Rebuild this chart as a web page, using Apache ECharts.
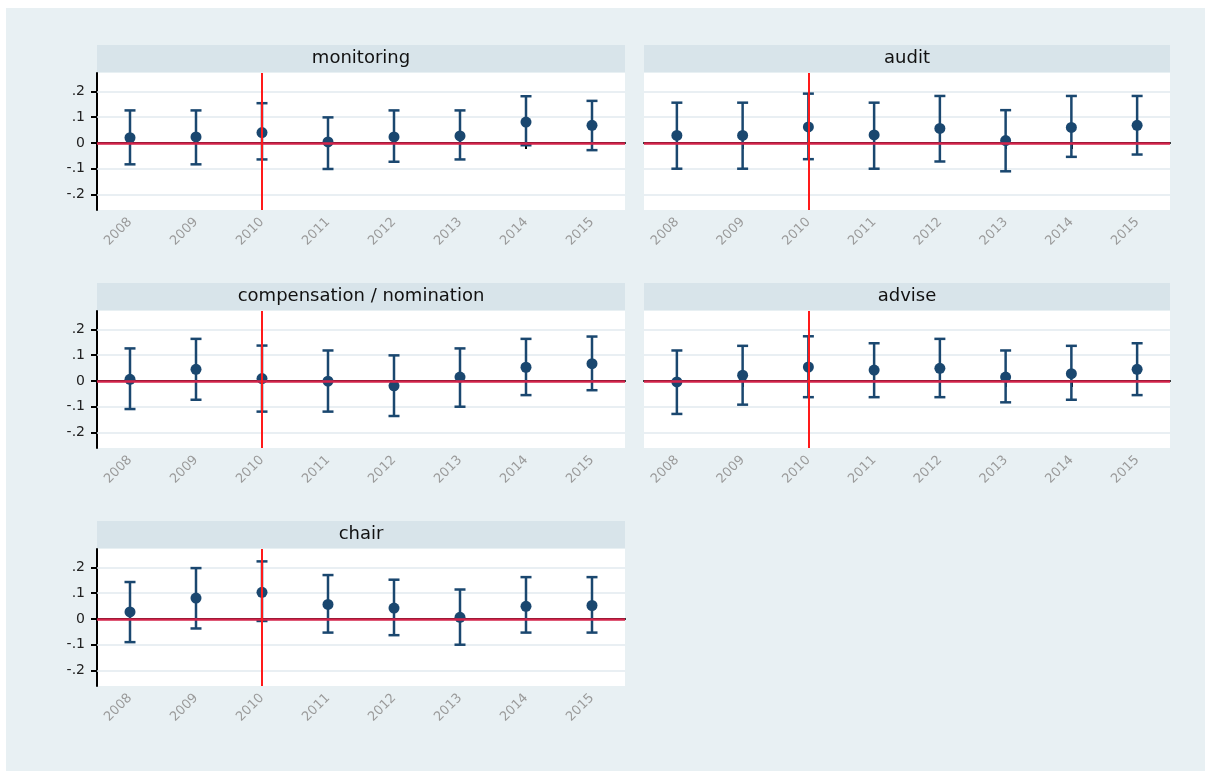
<!DOCTYPE html>
<html>
<head>
<meta charset="utf-8">
<script src="https://cdn.jsdelivr.net/npm/echarts@6/dist/echarts.min.js"></script>
<style>
html,body{margin:0;padding:0;background:#ffffff;}
#bg{position:absolute;left:6px;top:8px;width:1199px;height:763px;background:#e8f0f3;}
#chart{position:absolute;left:0;top:0;width:1205px;height:771px;}
</style>
</head>
<body>
<div id="bg"></div>
<div id="chart"></div>
<script>
// ---- data ----
const years = ['2008','2009','2010','2011','2012','2013','2014','2015'];
const panelTitles = ['monitoring','audit','compensation / nomination','advise','chair'];
const yTicks = [-0.2,-0.1,0,0.1,0.2];
const eventYear = '2010';

const monitoringEst = [0.020, 0.023, 0.040, 0.004, 0.023, 0.027, 0.081, 0.068];
const monitoringLo  = [-0.083,-0.083,-0.064,-0.101,-0.073,-0.064,-0.009,-0.028];
const monitoringHi  = [0.126, 0.126, 0.154, 0.099, 0.126, 0.126, 0.181, 0.163];

const auditEst = [0.029, 0.029, 0.062, 0.031, 0.056, 0.009, 0.060, 0.068];
const auditLo  = [-0.100,-0.100,-0.063,-0.100,-0.072,-0.110,-0.054,-0.045];
const auditHi  = [0.156, 0.156, 0.191, 0.156, 0.182, 0.127, 0.182, 0.182];

const compEst = [0.006, 0.045, 0.009, -0.001, -0.019, 0.015, 0.053, 0.067];
const compLo  = [-0.109,-0.073,-0.119,-0.119,-0.136,-0.100,-0.055,-0.036];
const compHi  = [0.126, 0.163, 0.137, 0.118, 0.099, 0.126, 0.163, 0.172];

const adviseEst = [-0.004, 0.022, 0.054, 0.042, 0.049, 0.015, 0.028, 0.045];
const adviseLo  = [-0.128,-0.092,-0.063,-0.063,-0.063,-0.083,-0.073,-0.055];
const adviseHi  = [0.118, 0.136, 0.173, 0.146, 0.163, 0.118, 0.136, 0.146];

const chairEst = [0.027, 0.081, 0.103, 0.056, 0.042, 0.006, 0.049, 0.052];
const chairLo  = [-0.090,-0.037,-0.008,-0.053,-0.063,-0.100,-0.053,-0.053];
const chairHi  = [0.143, 0.197, 0.223, 0.170, 0.152, 0.114, 0.162, 0.162];

const panelData = [
  [monitoringEst, monitoringLo, monitoringHi],
  [auditEst, auditLo, auditHi],
  [compEst, compLo, compHi],
  [adviseEst, adviseLo, adviseHi],
  [chairEst, chairLo, chairHi]
];

// ---- layout / style ----
const layout = [
  {left:97,  top:73,  width:528, yAxis:true},
  {left:644, top:73,  width:526, yAxis:false},
  {left:97,  top:311, width:528, yAxis:true},
  {left:644, top:311, width:526, yAxis:false},
  {left:97,  top:549, width:528, yAxis:true}
];
const plotH = 137, headerH = 27;
const navy = '#1a476f';
const fontFam = 'DejaVu Sans, Arial, sans-serif';

function fmtY(v){
  if (Math.abs(v) < 1e-9) return '0';
  const s = Math.abs(v).toFixed(1).replace(/^0/, '');
  return (v < 0 ? '-' : '') + s;
}

const grids = [], xAxes = [], yAxes = [], series = [], graphics = [];

layout.forEach((g, i) => {
  grids.push({left:g.left, top:g.top, width:g.width, height:plotH,
    show:true, backgroundColor:'#ffffff', borderWidth:0, containLabel:false});
  xAxes.push({type:'category', gridIndex:i, data:years, boundaryGap:true,
    axisLine:{show:true, lineStyle:{color:'#000', width:2}},
    axisTick:{show:true, alignWithLabel:true, length:6, lineStyle:{color:'#000', width:2}},
    axisLabel:{rotate:45, color:'#9a9a9a', fontSize:13, fontFamily:fontFam, margin:10},
    splitLine:{show:false}});
  yAxes.push({type:'value', gridIndex:i, min:-0.26, max:0.271,
    axisLine:{show:g.yAxis, onZero:false, lineStyle:{color:'#000', width:2}},
    axisTick:{show:g.yAxis, length:6, customValues:yTicks, lineStyle:{color:'#000', width:2}},
    axisLabel:{show:g.yAxis, customValues:yTicks, formatter:fmtY, color:'#222',
      fontSize:14, fontFamily:fontFam, margin:12},
    splitLine:{show:false}});

  const [est, lo, hi] = panelData[i];

  // faint horizontal grid lines
  series.push({type:'scatter', xAxisIndex:i, yAxisIndex:i, data:[], z:1, silent:true,
    markLine:{silent:true, z:1, symbol:['none','none'], label:{show:false},
      lineStyle:{color:'#e2eaef', width:1.5, type:'solid'},
      data: yTicks.filter(v => v !== 0).map(v => ({yAxis:v}))}});

  // confidence intervals
  series.push({type:'custom', xAxisIndex:i, yAxisIndex:i, z:3, silent:true,
    data: years.map((y, k) => [k, lo[k], hi[k]]),
    renderItem: function(params, api){
      const x = api.value(0);
      const a = api.coord([x, api.value(1)]);
      const b = api.coord([x, api.value(2)]);
      const c = 5.5;
      const st = {stroke:navy, lineWidth:2.5};
      return {type:'group', children:[
        {type:'line', shape:{x1:a[0], y1:a[1], x2:b[0], y2:b[1]}, style:st},
        {type:'line', shape:{x1:a[0]-c, y1:a[1], x2:a[0]+c, y2:a[1]}, style:st},
        {type:'line', shape:{x1:b[0]-c, y1:b[1], x2:b[0]+c, y2:b[1]}, style:st}
      ]};
    }});

  // point estimates
  series.push({type:'scatter', xAxisIndex:i, yAxisIndex:i, z:4, silent:true,
    symbol:'circle', symbolSize:11, itemStyle:{color:navy, opacity:1},
    data: est.map((v, k) => [k, v])});

  // reference lines
  series.push({type:'scatter', xAxisIndex:i, yAxisIndex:i, data:[], z:10, silent:true,
    markLine:{silent:true, z:10, symbol:['none','none'], label:{show:false}, animation:false,
      data:[
        {yAxis:0, lineStyle:{color:'#d3234a', width:2.5, type:'solid'}},
        {xAxis:eventYear, lineStyle:{color:'#ff1a1a', width:2, type:'solid'}}
      ]}});

  // header strip
  graphics.push({type:'rect', left:g.left, top:g.top - headerH - 1,
    shape:{width:g.width, height:headerH}, style:{fill:'#d8e4ea'}, silent:true});
  graphics.push({type:'text', x:g.left + g.width/2, y:g.top - 1 - headerH/2, silent:true,
    style:{text:panelTitles[i], fill:'#111', fontSize:18, fontFamily:fontFam,
      align:'center', verticalAlign:'middle'}});
});

const chart = echarts.init(document.getElementById('chart'), null, {renderer:'canvas'});
chart.setOption({
  animation:false,
  backgroundColor:'transparent',
  grid:grids, xAxis:xAxes, yAxis:yAxes, series:series, graphic:graphics
});
</script>
</body>
</html>
